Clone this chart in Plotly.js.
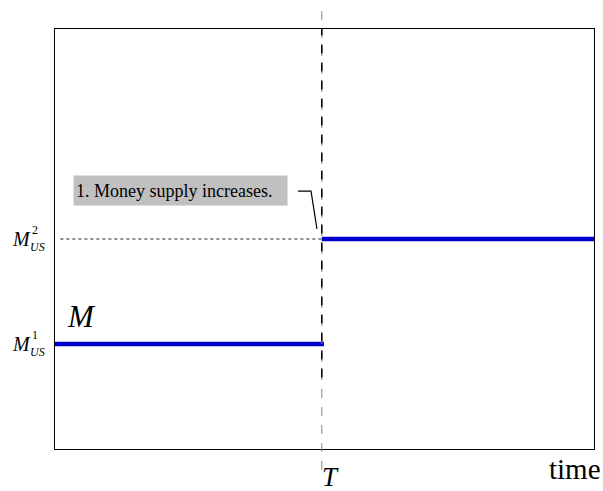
<!DOCTYPE html>
<html>
<head>
<meta charset="utf-8">
<script src="https://cdn.plot.ly/plotly-3.0.1.min.js"></script>
<style>
  html, body { margin: 0; padding: 0; background: #ffffff; }
  #chart { width: 603px; height: 491px; }
</style>
</head>
<body>
<div id="chart"></div>
<script>
// ---- data ----
var timeStart = 0;
var timeEnd = 10;
var shockTime = 4.95;          // T
var moneyBefore = 2.5;         // M_US^1
var moneyAfter = 5.0;          // M_US^2
var yMin = 0;
var yMax = 10;
var levelSuperscripts = ["1", "2"];
var annotationText = "1. Money supply increases.";
var curveLabel = "M";
var shockLabel = "T";
var xAxisLabel = "time";

var serif = "Liberation Serif";
var blue = "#0000cc";

var traces = [
  {
    x: [timeStart + 0.1, shockTime],
    y: [moneyAfter, moneyAfter],
    mode: "lines",
    line: { color: "#222222", width: 1, dash: "dot" },
    hoverinfo: "skip"
  },
  {
    x: [timeStart, shockTime + 0.04],
    y: [moneyBefore, moneyBefore],
    mode: "lines",
    line: { color: blue, width: 4.5 },
    hoverinfo: "skip"
  },
  {
    x: [shockTime, timeEnd],
    y: [moneyAfter, moneyAfter],
    mode: "lines",
    line: { color: blue, width: 4.5 },
    hoverinfo: "skip"
  }
];

function levelLabel(value, sup) {
  return [
    { xref: "paper", yref: "y", x: 0, y: value, xshift: -34, yshift: 0,
      text: "<i>M</i>", showarrow: false, xanchor: "center", yanchor: "middle",
      font: { family: serif, size: 20, color: "#000" } },
    { xref: "paper", yref: "y", x: 0, y: value, xshift: -18, yshift: -8,
      text: "<i>US</i>", showarrow: false, xanchor: "center", yanchor: "middle",
      font: { family: serif, size: 12, color: "#000" } },
    { xref: "paper", yref: "y", x: 0, y: value, xshift: -20, yshift: 9,
      text: sup, showarrow: false, xanchor: "center", yanchor: "middle",
      font: { family: serif, size: 12, color: "#000" } }
  ];
}

var annotations = []
  .concat(levelLabel(moneyBefore, levelSuperscripts[0]))
  .concat(levelLabel(moneyAfter, levelSuperscripts[1]))
  .concat([
    { xref: "paper", yref: "paper", x: 0.0334, y: 0.6524, xanchor: "left", yanchor: "top",
      text: annotationText, showarrow: false, align: "left",
      width: 209, height: 25, bgcolor: "#c0c0c0", borderpad: 2,
      font: { family: serif, size: 18, color: "#000" } },
    { xref: "x", yref: "y", x: timeStart, y: moneyBefore, xshift: 10, yshift: 28,
      text: "<i>" + curveLabel + "</i>", showarrow: false, xanchor: "left", yanchor: "middle",
      font: { family: serif, size: 31, color: "#000" } },
    { xref: "x", yref: "paper", x: shockTime, y: 0, yshift: -28, xshift: -2,
      text: "<i>" + shockLabel + "</i>", showarrow: false, xanchor: "left", yanchor: "middle",
      font: { family: serif, size: 27, color: "#000" } },
    { xref: "paper", yref: "paper", x: 1, y: 0, xshift: 9, yshift: -20,
      text: xAxisLabel, showarrow: false, xanchor: "right", yanchor: "middle",
      font: { family: serif, size: 29, color: "#000" } }
  ]);

var shapes = [
  { type: "line", xref: "x", yref: "paper", x0: shockTime, x1: shockTime, y0: -0.05, y1: 1.05,
    line: { color: "#888888", width: 1, dash: "dash" } },
  { type: "line", xref: "x", yref: "paper", x0: shockTime, x1: shockTime, y0: 0.17, y1: 1.0,
    line: { color: "#000000", width: 1.5, dash: "dash" } },
  { type: "path", xref: "x", yref: "y",
    path: "M 4.51,6.14 L 4.75,6.14 L 4.86,5.24",
    line: { color: "#000000", width: 1.2 } }
];

var layout = {
  width: 603,
  height: 491,
  margin: { l: 55, r: 9, t: 29, b: 42 },
  paper_bgcolor: "#ffffff",
  plot_bgcolor: "#ffffff",
  showlegend: false,
  font: { family: serif },
  xaxis: {
    range: [timeStart, timeEnd], showgrid: false, zeroline: false, showticklabels: false,
    ticks: "", showline: true, mirror: true, linecolor: "#000000", linewidth: 1.2
  },
  yaxis: {
    range: [yMin, yMax], showgrid: false, zeroline: false, showticklabels: false,
    ticks: "", showline: true, mirror: true, linecolor: "#000000", linewidth: 1.2
  },
  shapes: shapes,
  annotations: annotations
};

Plotly.newPlot("chart", traces, layout, { displayModeBar: false, staticPlot: true });
</script>
</body>
</html>
